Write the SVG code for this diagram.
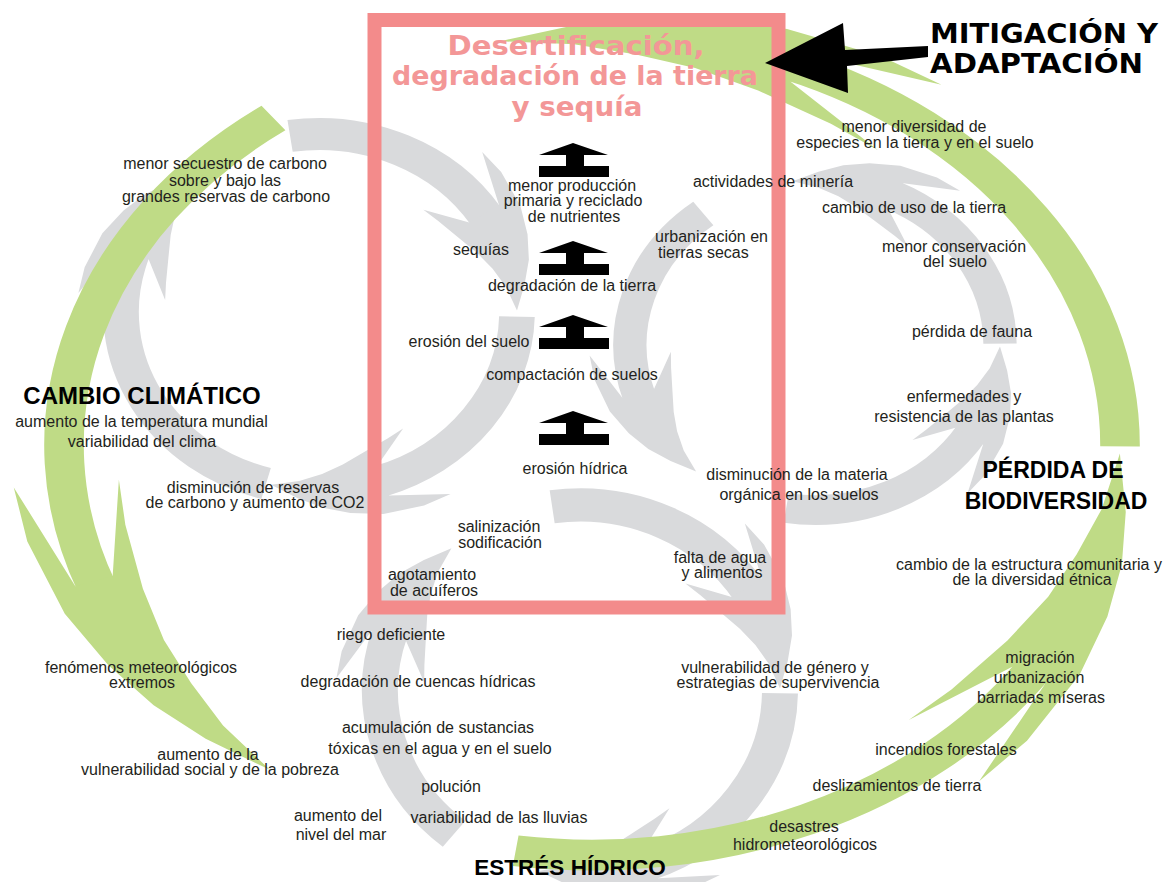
<svg xmlns="http://www.w3.org/2000/svg" xmlns:xlink="http://www.w3.org/1999/xlink" width="1165" height="882" viewBox="0 0 1165 882">
<style>
.gs{fill:none;stroke:#d9dadc;stroke-width:18}
.gf{fill:#d9dadc}
.vs{fill:none;stroke:#bfdb86;stroke-width:7.5}
.vf{fill:#bfdb86}
.t{font-family:"Liberation Sans",Arial,sans-serif;font-size:16px;fill:#231f20;text-anchor:middle}
.ts{font-family:"Liberation Sans",Arial,sans-serif;font-size:16px;fill:#231f20;text-anchor:start}
.h{font-family:"Liberation Sans",Arial,sans-serif;font-weight:bold;fill:#000;text-anchor:middle}
.hm{font-family:"DejaVu Sans","Liberation Sans",sans-serif;font-weight:bold;font-size:26px;fill:#000}
.title{font-family:"DejaVu Sans","Liberation Sans",sans-serif;font-weight:bold;font-size:27px;fill:#f39797;text-anchor:middle}
.ico{fill:#000}
</style>
<defs>
<path id="ghead" d="M91.42,-59.36 L83.20,-89.23 L92.69,-77.78 L102.19,-59.0 L105.70,-42.70 L106.25,-28.47 L103.98,-14.62 L100,0 L94.57,-13.29 L87.90,-23.55 L80.20,-32.40 L71.01,-41.0 L60.51,-50.78 L53.20,-57.05 L76.32,-49.56 Z"/>
<path id="vhead" d="M87.01,-56.50 L75.02,-80.45 L83.88,-70.39 L93.53,-54.0 L98.47,-39.78 L100.94,-27.05 L101.41,-14.25 L100,0 L96.85,-13.61 L92.34,-24.74 L87.16,-35.21 L79.67,-46.0 L69.32,-58.17 L61.38,-65.83 L80.72,-52.42 Z"/>
<path id="icon" d="M34,0 L69,12 L45,12 L45,23 L70,23 L70,34 L0,34 L0,23 L27,23 L27,12 L0,12 Z"/>
</defs>

<g id="connectors">
<g id="gray-left-cycle" transform="translate(319,312) scale(1.98,1.78)">
<circle r="100" class="gs" stroke-dasharray="115.0 1000" transform="rotate(-98.4)"/>
<use xlink:href="#ghead" class="gf" transform="rotate(-0.5)"/>
<circle r="100" class="gs" stroke-dasharray="123.0 1000" transform="rotate(1.5)"/>
<use xlink:href="#ghead" class="gf" transform="rotate(104)"/>
<circle r="100" class="gs" stroke-dasharray="164.9 1000" transform="rotate(105.5)"/>
<use xlink:href="#ghead" class="gf" transform="rotate(232)"/>
</g>
<g id="gray-bottom-cycle" transform="translate(580,690) scale(2.0,1.85)">
<circle r="100" class="gs" stroke-dasharray="120.4 1000" transform="rotate(129)"/>
<use xlink:href="#ghead" class="gf" transform="rotate(230)"/>
<circle r="100" class="gs" stroke-dasharray="115.2 1000" transform="rotate(262)"/>
<use xlink:href="#ghead" class="gf" transform="rotate(-0.5)"/>
<circle r="100" class="gs" stroke-dasharray="120.4 1000" transform="rotate(1)"/>
<use xlink:href="#ghead" class="gf" transform="rotate(102)"/>
</g>
<g id="gray-right-cycle" transform="translate(815,345) scale(1.85,1.65)">
<circle r="100" class="gs" stroke-dasharray="123.6 1000" transform="rotate(162)"/>
<use xlink:href="#ghead" class="gf" transform="rotate(130) scale(1,-1)"/>
<circle r="100" class="gs" stroke-dasharray="116.8 1000" transform="rotate(32)"/>
<use xlink:href="#ghead" class="gf" transform="rotate(0.5) scale(1,-1)"/>
<circle r="100" class="gs" stroke-dasharray="112.6 1000" transform="rotate(-65)"/>
<use xlink:href="#ghead" class="gf" transform="rotate(-97) scale(1,-1)"/>
</g>
<g id="green-cycle" transform="translate(592,445) scale(5.28,4.1)">
<circle r="100" class="vs" stroke-dasharray="127.9 1000" transform="rotate(159.6)"/>
<use xlink:href="#vhead" class="vf" transform="rotate(127.6) scale(1,-1)"/>
<circle r="100" class="vs" stroke-dasharray="113.1 1000" transform="rotate(33.5)"/>
<use xlink:href="#vhead" class="vf" transform="rotate(1.2) scale(1,-1)"/>
<circle r="100" class="vs" stroke-dasharray="119.0 1000" transform="rotate(-68)"/>
<use xlink:href="#vhead" class="vf" transform="rotate(-100) scale(1,-1)"/>
</g>
</g>

<g id="box">
<rect x="374.5" y="20" width="404" height="587.5" fill="none" stroke="#f38b8b" stroke-width="14"/>
<text class="title" x="576" y="55" textLength="257" lengthAdjust="spacingAndGlyphs">Desertificación,</text>
<text class="title" x="575" y="85" textLength="366" lengthAdjust="spacingAndGlyphs">degradación de la tierra</text>
<text class="title" x="577" y="116" textLength="131" lengthAdjust="spacingAndGlyphs">y sequía</text>
</g>

<g id="up-icons">
<use xlink:href="#icon" class="ico" transform="translate(539,143)"/>
<use xlink:href="#icon" class="ico" transform="translate(539,241)"/>
<use xlink:href="#icon" class="ico" transform="translate(539,315)"/>
<use xlink:href="#icon" class="ico" transform="translate(539,411)"/>
</g>

<g id="mitigation">
<polygon points="765,63 843,23 845,50 928,46 928,57 847,66 848,93" fill="#000"/>
<text class="hm" x="930" y="43" textLength="228" lengthAdjust="spacingAndGlyphs">MITIGACIÓN Y</text>
<text class="hm" x="930" y="73" textLength="213" lengthAdjust="spacingAndGlyphs">ADAPTACIÓN</text>
</g>

<g id="climate">
<text class="t"><tspan x="225" y="169">menor secuestro de carbono</tspan><tspan x="225" y="186">sobre y bajo las</tspan><tspan x="226" y="202">grandes reservas de carbono</tspan></text>
<text class="h" x="142" y="404" font-size="24">CAMBIO CLIMÁTICO</text>
<text class="t"><tspan x="141.5" y="427">aumento de la temperatura mundial</tspan><tspan x="142" y="447">variabilidad del clima</tspan></text>
<text class="t"><tspan x="253" y="493">disminución de reservas</tspan><tspan x="255" y="508">de carbono y aumento de CO2</tspan></text>
<text class="t"><tspan x="141" y="673">fenómenos meteorológicos</tspan><tspan x="142" y="688">extremos</tspan></text>
<text class="t"><tspan x="208" y="760">aumento de la</tspan><tspan x="210" y="775">vulnerabilidad social y de la pobreza</tspan></text>
<text class="t"><tspan x="338" y="821">aumento del</tspan><tspan x="341" y="840">nivel del mar</tspan></text>
</g>

<g id="desertification">
<text class="t"><tspan x="572" y="191">menor producción</tspan><tspan x="573" y="206">primaria y reciclado</tspan><tspan x="574" y="222">de nutrientes</tspan></text>
<text class="t" x="481" y="255">sequías</text>
<text class="t" x="572" y="291">degradación de la tierra</text>
<text class="ts"><tspan x="655" y="242">urbanización en</tspan><tspan x="658" y="258">tierras secas</tspan></text>
<text class="t" x="469" y="347">erosión del suelo</text>
<text class="t" x="572" y="380">compactación de suelos</text>
<text class="t" x="575" y="474">erosión hídrica</text>
<text class="t"><tspan x="499" y="532">salinización</tspan><tspan x="500" y="548">sodificación</tspan></text>
<text class="t"><tspan x="432" y="580">agotamiento</tspan><tspan x="434" y="596">de acuíferos</tspan></text>
<text class="t"><tspan x="720" y="563">falta de agua</tspan><tspan x="722" y="578">y alimentos</tspan></text>
<text class="t"><tspan x="797" y="480">disminución de la materia</tspan><tspan x="799" y="500">orgánica en los suelos</tspan></text>
<text class="t" x="773" y="187">actividades de minería</text>
</g>

<g id="biodiversity">
<text class="t"><tspan x="914" y="132">menor diversidad de</tspan><tspan x="915" y="148">especies en la tierra y en el suelo</tspan></text>
<text class="t" x="914" y="213">cambio de uso de la tierra</text>
<text class="t"><tspan x="954" y="252">menor conservación</tspan><tspan x="955" y="267">del suelo</tspan></text>
<text class="t" x="972" y="337">pérdida de fauna</text>
<text class="t"><tspan x="964" y="402">enfermedades y</tspan><tspan x="964" y="422">resistencia de las plantas</tspan></text>
<text class="h" font-size="23"><tspan x="1053" y="478">PÉRDIDA DE</tspan><tspan x="1056" y="509">BIODIVERSIDAD</tspan></text>
<text class="t"><tspan x="1029" y="570">cambio de la estructura comunitaria y</tspan><tspan x="1032" y="585">de la diversidad étnica</tspan></text>
<text class="t"><tspan x="1040" y="663">migración</tspan><tspan x="1039" y="683">urbanización</tspan><tspan x="1041" y="703">barriadas míseras</tspan></text>
<text class="t" x="946" y="755">incendios forestales</text>
<text class="t" x="897" y="791">deslizamientos de tierra</text>
<text class="t"><tspan x="804" y="832">desastres</tspan><tspan x="805" y="850">hidrometeorológicos</tspan></text>
</g>

<g id="water">
<text class="t" x="391" y="640">riego deficiente</text>
<text class="t" x="418" y="687">degradación de cuencas hídricas</text>
<text class="t"><tspan x="438" y="733">acumulación de sustancias</tspan><tspan x="440" y="754">tóxicas en el agua y en el suelo</tspan></text>
<text class="t" x="451" y="792">polución</text>
<text class="t" x="499" y="823">variabilidad de las lluvias</text>
<text class="t"><tspan x="775" y="673">vulnerabilidad de género y</tspan><tspan x="778" y="688">estrategias de supervivencia</tspan></text>
<text class="h" x="570" y="875" font-size="22.5">ESTRÉS HÍDRICO</text>
</g>
</svg>
